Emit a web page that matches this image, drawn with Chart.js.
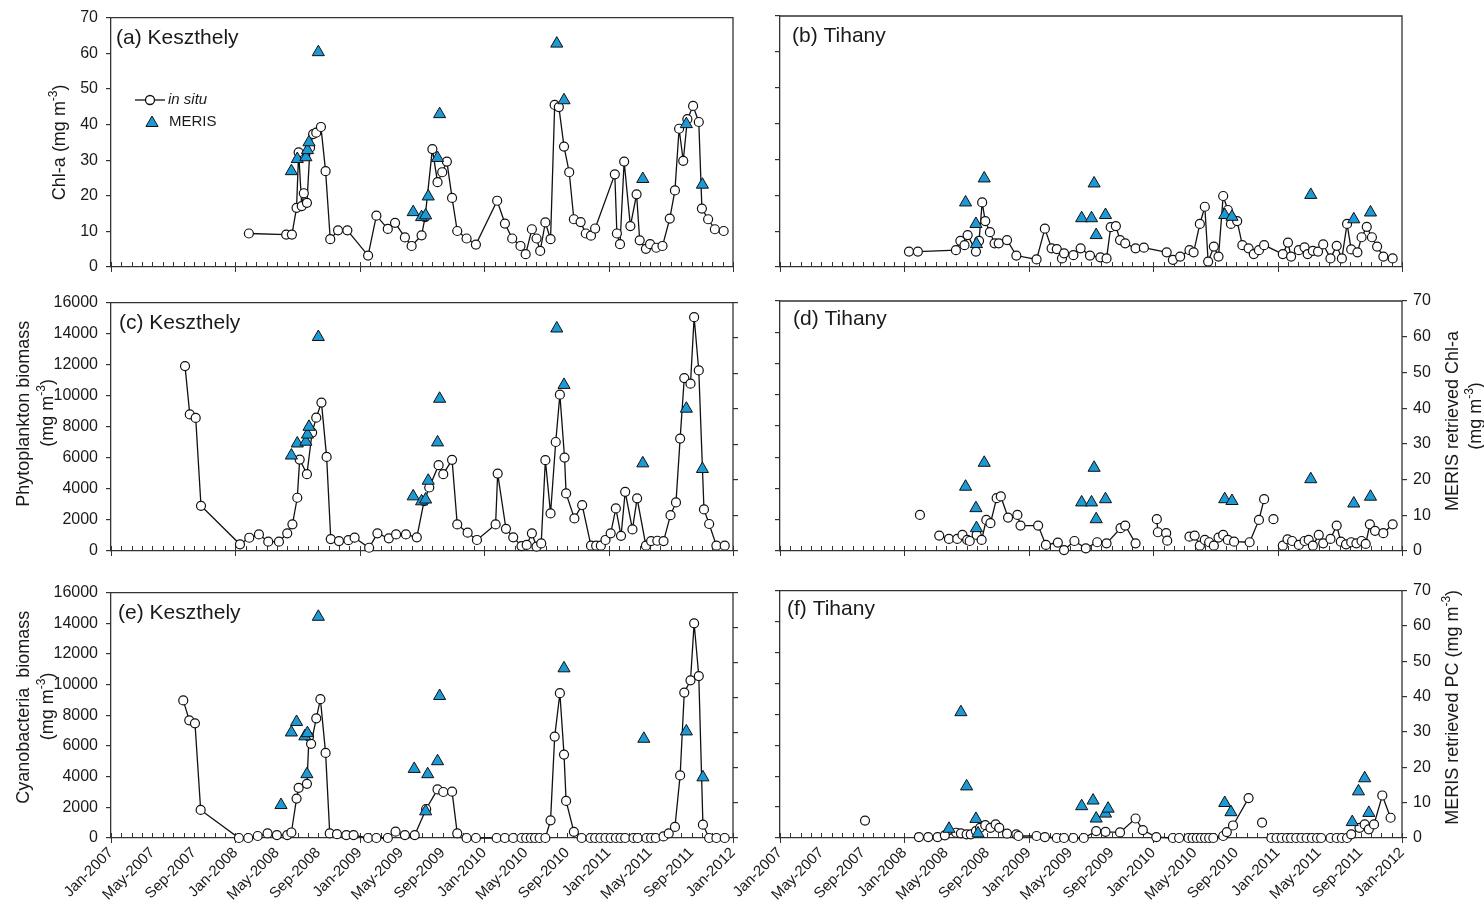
<!DOCTYPE html>
<html>
<head>
<meta charset="utf-8">
<script src="https://cdn.jsdelivr.net/npm/chart.js@4.4.0/dist/chart.umd.min.js"></script>
<style>
  html, body { margin: 0; padding: 0; background: #fff; }
  #wrap { position: relative; width: 1484px; height: 917px; overflow: hidden; }
  canvas { position: absolute; }
</style>
</head>
<body>
<div id="wrap">
  <canvas id="pa" style="left:0;top:0" width="760" height="285"></canvas>
  <canvas id="pb" style="left:700px;top:0" width="784" height="285"></canvas>
  <canvas id="pc" style="left:0;top:285px" width="760" height="290"></canvas>
  <canvas id="pd" style="left:700px;top:285px" width="784" height="290"></canvas>
  <canvas id="pe" style="left:0;top:575px" width="760" height="342"></canvas>
  <canvas id="pf" style="left:700px;top:575px" width="784" height="342"></canvas>
</div>
<script>
// x values are months since Jan-2007
const monthLabels = ['Jan-2007','May-2007','Sep-2007','Jan-2008','May-2008','Sep-2008','Jan-2009','May-2009',
  'Sep-2009','Jan-2010','May-2010','Sep-2010','Jan-2011','May-2011','Sep-2011','Jan-2012'];

// (a) Keszthely in situ Chl-a
const keszChlT = [13.3, 16.9, 17.45, 17.9, 18.1, 18.4, 18.6, 18.9, 19.2, 19.5, 19.8, 20.25, 20.7, 21.15, 21.9, 22.8,
  24.8, 25.6, 26.7, 27.4, 28.35, 29.0, 29.96, 30.3, 31.0, 31.5, 31.95, 32.4, 32.9, 33.4, 34.3, 35.2, 37.25, 38.0,
  38.7, 39.5, 40.0, 40.6, 41.05, 41.4, 41.9, 42.4, 42.8, 43.2, 43.7, 44.2, 44.65, 45.3, 45.8, 46.3, 46.7, 48.6,
  48.8, 49.1, 49.5, 50.1, 50.7, 51.0, 51.6, 52.0, 52.6, 53.2, 53.9, 54.4, 54.8, 55.2, 55.6, 56.15, 56.7, 57.0,
  57.6, 58.25, 59.1];
const keszChl = [9.4, 9.1, 9.1, 16.6, 32.2, 17.1, 20.7, 18.0, 33.5, 37.3, 37.7, 39.3, 26.9, 7.8, 10.3, 10.3,
  3.2, 14.4, 10.7, 12.4, 8.3, 5.9, 8.9, 14.0, 33.1, 23.8, 26.6, 29.6, 19.4, 10.1, 8.0, 6.3, 18.6, 12.2,
  8.0, 5.9, 3.6, 10.6, 8.0, 4.5, 12.5, 7.8, 45.5, 44.9, 33.8, 26.6, 13.4, 12.6, 9.4, 8.8, 10.8, 26.0,
  9.4, 6.4, 29.6, 11.5, 20.4, 7.5, 5.1, 6.4, 5.4, 5.9, 13.6, 21.5, 38.8, 29.8, 41.5, 45.2, 40.7, 16.4,
  13.4, 10.6, 10.1];

// MERIS retrieved Chl-a, Keszthely (panels a and c)
const keszMerisChlT = [17.4, 17.97, 18.8, 18.95, 19.1, 20.0, 29.15, 29.96, 30.35, 30.6, 31.5, 31.7, 43.0, 43.7, 51.3, 55.5, 57.05];
const keszMerisChl = [26.9, 30.3, 30.8, 32.8, 35.0, 60.3, 15.4, 14.0, 14.5, 19.8, 30.6, 42.9, 62.7, 46.8, 24.7, 40.1, 23.1];

// (b) Tihany in situ Chl-a
const tihChlT = [12.44, 13.3, 16.97, 17.4, 17.8, 18.1, 18.9, 19.2, 19.5, 19.8, 20.25, 20.7, 21.1, 21.9, 22.8, 24.75,
  25.55, 26.2, 26.7, 27.2, 27.4, 28.3, 29.0, 29.9, 30.9, 31.5, 31.9, 32.4, 32.8, 33.3, 34.3, 35.1, 37.3, 37.9,
  38.6, 39.5, 39.9, 40.5, 40.98, 41.3, 41.85, 42.3, 42.75, 43.2, 43.5, 44.1, 44.6, 45.2, 45.7, 46.2, 46.7, 48.5,
  49.0, 49.3, 50.05, 50.6, 50.9, 51.4, 51.9, 52.4, 53.1, 53.7, 54.2, 54.7, 55.1, 55.7, 56.1, 56.6, 57.1, 57.6,
  58.2, 59.1];
const tihChl = [4.3, 4.3, 4.7, 7.3, 6.1, 8.9, 4.3, 7.3, 18.0, 12.8, 9.7, 6.6, 6.6, 7.5, 3.2, 2.1,
  10.7, 5.2, 5.0, 2.4, 3.8, 3.3, 5.2, 3.2, 2.7, 2.4, 11.1, 11.4, 7.5, 6.6, 5.2, 5.4, 4.1, 2.0,
  2.9, 4.7, 4.1, 12.0, 16.8, 1.5, 5.7, 2.9, 19.8, 15.9, 12.0, 12.8, 6.1, 5.2, 3.6, 4.7, 6.1, 3.6,
  6.8, 2.9, 4.7, 5.5, 3.6, 4.5, 4.3, 6.3, 2.4, 5.9, 2.4, 12.0, 4.9, 4.1, 8.3, 11.2, 8.3, 5.7,
  2.9, 2.4];

// MERIS retrieved Chl-a, Tihany (panels b and d)
const tihMerisChlT = [17.9, 18.9, 18.95, 19.7, 29.1, 30.05, 30.3, 30.5, 31.4, 42.9, 43.6, 51.2, 55.35, 56.96];
const tihMerisChl = [18.0, 12.0, 6.4, 24.7, 13.6, 13.6, 23.3, 8.9, 14.5, 14.5, 14.0, 20.1, 13.3, 15.2];

// (c) Keszthely phytoplankton biomass
const keszPhytoT = [7.14, 7.6, 8.17, 8.68, 12.44, 13.34, 14.27, 15.17, 16.2, 17.0, 17.5, 17.97, 18.2, 18.9, 19.4,
  19.8, 20.3, 20.8, 21.2, 21.99, 22.9, 23.5, 24.9, 25.7, 26.8, 27.5, 28.45, 29.5, 30.2, 30.7, 31.6, 32.05, 32.9,
  33.4, 34.4, 35.3, 37.1, 37.3, 38.1, 38.8, 39.6, 40.1, 40.6, 41.05, 41.5, 41.9, 42.4, 42.9, 43.3, 43.75, 43.9,
  44.7, 45.45, 46.3, 46.8, 47.25, 47.7, 48.2, 48.7, 49.2, 49.6, 50.3, 50.75, 51.6, 52.1, 52.7, 53.3, 53.97,
  54.5, 54.9, 55.3, 55.9, 56.25, 56.7, 57.2, 57.7, 58.4, 59.2];
const keszPhyto = [11910, 8800, 8570, 2910, 430, 855, 1070, 600, 600, 1140, 1715, 3430, 5890, 4950, 7630,
  8590, 9560, 6060, 770, 640, 700, 860, 210, 1140, 815, 1070, 1070, 880, 3210, 4090, 5530, 4950, 5870,
  1710, 1180, 710, 1710, 4990, 1430, 880, 320, 390, 1140, 280, 490, 5850, 2420, 7020, 10070, 6020, 3710,
  2100, 2960, 340, 340, 340, 710, 1140, 2740, 980, 3810, 1390, 3390, 340, 640, 660, 640, 2310,
  3130, 7240, 11140, 10780, 15060, 11630, 2680, 1740, 340, 340];

// (d) Tihany phytoplankton biomass (null = gap in the series)
const tihPhytoT = [13.5, 14.5, 15.36, 16.3, 17.1, 17.6, 18.06, 18.3, 18.97, 19.45, 19.9, 20.3, 20.9, 21.3, 22.0,
  22.9, 23.2, 24.9, 25.65, 26.8, 27.4, 28.4, 29.5, 30.6, 31.5, 32.85, 33.3, 34.3, 35.3, 36.35, 36.45, 37.25,
  37.35, 38.4, 39.5, 40.0, 40.5, 40.98, 41.4, 41.85, 42.3, 42.75, 43.2, 43.8, 45.3, 46.2, 46.7, 47.1, 47.6,
  48.0, 48.5, 48.96, 49.4, 50.05, 50.6, 51.0, 51.4, 51.97, 52.4, 53.1, 53.7, 54.1, 54.6, 55.1, 55.6, 56.1,
  56.5, 56.9, 57.4, 58.2, 59.1];
const tihPhyto = [2310, null, 985, 770, 770, 1030, 710, 640, 1030, 710, 1990, 1780, 3380, 3490, 2140,
  2310, 1630, 1630, 390, 540, 60, 640, 170, 560, 490, 1460, 1630, 490, null, 2040, 1200, 1140,
  660, null, 920, 985, 340, 710, 560, 340, 860, 1030, 710, 600, 560, 1990, 3320, null, 2040,
  null, 340, 750, 640, 390, 640, 710, 340, 1030, 490, 770, 1630, 600, 430, 560, 490, 640,
  450, 1710, 1290, 1140, 1710];

// (e) Keszthely cyanobacteria biomass
const keszCyanoT = [6.97, 7.55, 8.1, 8.65, 12.34, 13.24, 14.15, 15.1, 16.0, 17.0, 17.4, 17.9, 18.1, 18.9, 19.1,
  19.3, 19.8, 20.2, 20.7, 21.1, 21.8, 22.7, 23.4, 24.8, 25.6, 26.7, 27.45, 28.35, 29.3, 30.4, 31.5, 32.05,
  32.9, 33.4, 34.3, 35.2, 37.2, 38.0, 38.8, 39.6, 40.05, 40.5, 40.9, 41.35, 41.9, 42.4, 42.8, 43.3, 43.7,
  43.9, 44.65, 45.4, 46.25, 46.7, 47.2, 47.7, 48.2, 48.7, 49.15, 49.6, 50.4, 50.8, 51.65, 52.1, 52.55, 53.3,
  53.8, 54.4, 54.9, 55.3, 55.9, 56.25, 56.7, 57.1, 57.7, 58.4, 59.2];
const keszCyano = [8970, 7670, 7480, 1830, 0, 0, 130, 300, 190, 190, 360, 2570, 3270, 3530, 6610,
  6140, 7800, 9050, 5550, 300, 250, 190, 190, 0, 0, 0, 410, 190, 190, 1890, 3170, 3000,
  3020, 300, 0, 0, 0, 0, 0, 0, 0, 0, 0, 0, 0, 1150, 6610, 9440, 5440,
  2420, 400, 0, 0, 0, 0, 0, 0, 0, 0, 0, 0, 0, 0, 0, 0, 100,
  300, 720, 4080, 9480, 10280, 14000, 10560, 870, 0, 0, 0];

// MERIS retrieved PC, Keszthely (panel e)
const keszMerisPcT = [16.4, 17.4, 17.9, 18.7, 18.9, 18.95, 20.0, 29.25, 30.35, 30.55, 31.5, 31.7, 43.7, 51.4, 55.5, 57.1];
const keszMerisPc = [9.4, 30.1, 33.1, 29.0, 18.2, 29.9, 63.1, 19.7, 7.6, 18.2, 21.9, 40.5, 48.4, 28.3, 30.4, 17.3];

// (f) Tihany cyanobacteria biomass (null = gap in the series)
const tihCyanoT = [8.2, 10.0, 13.4, 14.3, 15.2, 15.9, 17.0, 17.45, 18.0, 18.4, 18.9, 19.3, 19.8, 20.3, 20.8, 21.15,
  21.9, 22.8, 23.0, 24.75, 25.55, 26.7, 27.4, 28.3, 29.3, 30.5, 31.4, 32.8, 34.3, 35.0, 36.3, 37.9, 38.5,
  39.4, 39.8, 40.2, 40.6, 41.0, 41.4, 41.8, 42.75, 43.1, 43.7, 45.2, 46.0, 46.5, 47.0, 47.4, 47.9, 48.4,
  48.9, 49.3, 49.8, 50.3, 50.8, 51.3, 51.8, 52.2, 53.1, 53.7, 54.2, 54.7, 55.1, 55.9, 56.4, 56.8, 57.3,
  58.1, 58.9];
const tihCyano = [1130, null, 60, 60, 60, 170, 340, 300, 240, 240, 450, 660, 830, 660, 880, 660,
  280, 240, 130, 130, 60, 0, 0, 0, 0, 450, 400, 360, 1260, 510, 60, 0, 0,
  0, 0, 0, 0, 0, 0, 0, 130, 380, 810, 2580, null, 1000, null, 0, 0, 0,
  0, 0, 0, 0, 0, 0, 0, 0, 0, 0, 0, 0, 240, 660, 880, 560, 880,
  2750, 1310];

// MERIS retrieved PC, Tihany (panel f)
const tihMerisPcT = [16.3, 17.45, 18.0, 18.9, 19.1, 29.1, 30.2, 30.5, 31.4, 31.65, 42.9, 43.5, 55.2, 55.8, 56.4, 56.8];
const tihMerisPc = [2.6, 35.6, 14.6, 5.4, 1.3, 9.0, 10.6, 5.5, 6.9, 8.3, 9.9, 7.3, 4.5, 13.2, 16.9, 7.1];

const FONT = '"Liberation Sans", Arial, Helvetica, sans-serif';
const TXT = '#1a1a1a';
const AXIS = '#333';
const BLUE = '#1b9ad6';
Chart.defaults.font.family = FONT;
Chart.defaults.color = TXT;

const pts = (t, v) => t.map((m, i) => ({ x: m, y: v[i] }));
const UNIT = [['(mg m', 0], ['-3', 1], [')', 0]];

// text and decoration per panel, keyed by canvas id
const deco = {
  pa: { label: '(a) Keszthely', lx: 5, ly: 26, legend: true,
        titles: [{ parts: [['Chl-a (mg m', 0], ['-3', 1], [')', 0]], x: 60, dy: 0 }] },
  pb: { label: '(b) Tihany', lx: 12, ly: 26, titles: [] },
  pc: { label: '(c) Keszthely', lx: 8, ly: 26,
        titles: [{ parts: [['Phytoplankton biomass', 0]], x: 24, dy: -13 }, { parts: UNIT, x: 48, dy: -14 }] },
  pd: { label: '(d) Tihany', lx: 13, ly: 24,
        titles: [{ parts: [['MERIS retrieved Chl-a', 0]], x: 753, dy: -5 }, { parts: UNIT, x: 776, dy: -10 }] },
  pe: { label: '(e) Keszthely', lx: 7, ly: 26,
        titles: [{ parts: [['Cyanobacteria  biomass', 0]], x: 24, dy: -8 }, { parts: UNIT, x: 48, dy: -9 }] },
  pf: { label: '(f) Tihany', lx: 7, ly: 24,
        titles: [{ parts: [['MERIS retrieved PC (mg m', 0], ['-3', 1], [')', 0]], x: 753, dy: -7 }] }
};

function drawVertical(ctx, parts, x, y) {
  ctx.save();
  ctx.translate(x, y);
  ctx.rotate(-Math.PI / 2);
  ctx.textBaseline = 'middle';
  ctx.fillStyle = TXT;
  const fontOf = sup => (sup ? '12px ' : '18px ') + FONT;
  let w = 0;
  parts.forEach(([s, sup]) => { ctx.font = fontOf(sup); w += ctx.measureText(s).width; });
  let cx = -w / 2;
  parts.forEach(([s, sup]) => {
    ctx.font = fontOf(sup);
    ctx.fillText(s, cx, sup ? -6 : 0);
    cx += ctx.measureText(s).width;
  });
  ctx.restore();
}

function triangle(ctx, x, y, r) {
  ctx.beginPath();
  ctx.moveTo(x, y - r);
  ctx.lineTo(x + r * 0.866, y + r * 0.5);
  ctx.lineTo(x - r * 0.866, y + r * 0.5);
  ctx.closePath();
  ctx.fillStyle = BLUE;
  ctx.fill();
  ctx.strokeStyle = '#111';
  ctx.lineWidth = 1;
  ctx.stroke();
}

const panelPlugin = {
  id: 'panelDeco',
  beforeDatasetsDraw(chart) {
    const { ctx, chartArea: a } = chart;
    const xs = chart.scales.x;
    ctx.save();
    ctx.strokeStyle = AXIS;
    ctx.lineWidth = 1.3;
    ctx.beginPath();
    ctx.moveTo(a.left, a.top);
    ctx.lineTo(a.right, a.top);
    ctx.lineTo(a.right, a.bottom);
    ctx.stroke();
    ctx.lineWidth = 1;
    for (let m = 0; m <= 60; m++) {
      const px = Math.round(xs.getPixelForValue(m)) + 0.5;
      ctx.beginPath();
      ctx.moveTo(px, a.bottom - 5);
      ctx.lineTo(px, m % 12 === 0 ? a.bottom + 5 : a.bottom);
      ctx.stroke();
    }
    ctx.restore();
  },
  afterDraw(chart) {
    const d = deco[chart.canvas.id];
    const { ctx, chartArea: a } = chart;
    ctx.save();
    ctx.fillStyle = TXT;
    ctx.font = '21px ' + FONT;
    ctx.textBaseline = 'alphabetic';
    ctx.fillText(d.label, a.left + d.lx, a.top + d.ly);
    const cy = (a.top + a.bottom) / 2;
    d.titles.forEach(t => drawVertical(ctx, t.parts, t.x, cy + t.dy));
    if (d.legend) {
      ctx.strokeStyle = '#111';
      ctx.lineWidth = 1.3;
      ctx.beginPath();
      ctx.moveTo(135, 100); ctx.lineTo(165, 100);
      ctx.stroke();
      ctx.beginPath();
      ctx.arc(150, 100, 4.5, 0, Math.PI * 2);
      ctx.fillStyle = '#fff';
      ctx.fill();
      ctx.stroke();
      triangle(ctx, 152, 123, 7);
      ctx.fillStyle = TXT;
      ctx.textBaseline = 'middle';
      ctx.font = 'italic 15px ' + FONT;
      ctx.fillText('in situ', 168, 100);
      ctx.font = '15px ' + FONT;
      ctx.fillText('MERIS', 169, 122);
    }
    ctx.restore();
  }
};

function makePanel(id, p) {
  return new Chart(document.getElementById(id), {
    type: 'line',
    data: {
      datasets: [
        { label: 'MERIS', data: pts(p.meris[0], p.meris[1]), yAxisID: 'y2', showLine: false,
          pointStyle: 'triangle', pointRadius: 7, pointBackgroundColor: BLUE, pointBorderColor: '#111',
          pointBorderWidth: 1, order: 0, clip: false },
        { label: 'in situ', data: pts(p.insitu[0], p.insitu[1]), yAxisID: 'y', borderColor: '#111',
          borderWidth: 1.3, pointRadius: 4.5, pointBackgroundColor: '#fff', pointBorderColor: '#111',
          pointBorderWidth: 1.2, tension: 0, spanGaps: false, order: 1, clip: false }
      ]
    },
    options: {
      responsive: false,
      animation: false,
      events: [],
      layout: { autoPadding: false, padding: { top: p.padTop, left: 0, right: 0, bottom: 0 } },
      plugins: { legend: { display: false }, tooltip: { enabled: false } },
      scales: {
        x: {
          type: 'linear', min: 0, max: 60,
          ticks: {
            display: p.xLabels, stepSize: 1, autoSkip: false, minRotation: 45, maxRotation: 45,
            padding: 6, color: TXT, font: { size: 15 },
            callback: v => (Math.round(v) % 4 === 0 ? monthLabels[Math.round(v) / 4] : '')
          },
          grid: { display: false, drawTicks: false },
          border: { display: true, color: AXIS, width: 1.3 },
          afterFit: s => { s.height = p.xHeight; }
        },
        y: {
          position: 'left', min: 0, max: p.yMax,
          ticks: { display: p.yLabels, stepSize: p.yStep, padding: 8, color: TXT, font: { size: 16 },
                   callback: v => String(v) },
          grid: { drawOnChartArea: false, drawTicks: true, tickLength: 5, color: AXIS, lineWidth: 1.2 },
          border: { display: true, color: AXIS, width: 1.3 },
          afterFit: s => { s.width = p.lw; }
        },
        y2: {
          position: 'right', min: 0, max: 70,
          ticks: { display: p.y2Labels, stepSize: 10, padding: 6, color: TXT, font: { size: 16 },
                   callback: v => String(v) },
          grid: { display: p.y2Ticks, drawOnChartArea: false, drawTicks: true, tickLength: 5,
                  color: AXIS, lineWidth: 1.2 },
          border: { display: false },
          afterFit: s => { s.width = p.rw; }
        }
      }
    },
    plugins: [panelPlugin]
  });
}

document.addEventListener('DOMContentLoaded', () => {
  makePanel('pa', { insitu: [keszChlT, keszChl], meris: [keszMerisChlT, keszMerisChl], padTop: 16, xHeight: 18,
    xLabels: false, yMax: 70, yStep: 10, yLabels: true, y2Labels: false, y2Ticks: false, lw: 111, rw: 27 });
  makePanel('pb', { insitu: [tihChlT, tihChl], meris: [tihMerisChlT, tihMerisChl], padTop: 16, xHeight: 18,
    xLabels: false, yMax: 70, yStep: 10, yLabels: false, y2Labels: false, y2Ticks: false, lw: 80, rw: 82 });
  makePanel('pc', { insitu: [keszPhytoT, keszPhyto], meris: [keszMerisChlT, keszMerisChl], padTop: 16, xHeight: 24,
    xLabels: false, yMax: 16000, yStep: 2000, yLabels: true, y2Labels: false, y2Ticks: true, lw: 111, rw: 27 });
  makePanel('pd', { insitu: [tihPhytoT, tihPhyto], meris: [tihMerisChlT, tihMerisChl], padTop: 16, xHeight: 24,
    xLabels: false, yMax: 16000, yStep: 2000, yLabels: false, y2Labels: true, y2Ticks: true, lw: 80, rw: 82 });
  makePanel('pe', { insitu: [keszCyanoT, keszCyano], meris: [keszMerisPcT, keszMerisPc], padTop: 12, xHeight: 79,
    xLabels: true, yMax: 16000, yStep: 2000, yLabels: true, y2Labels: false, y2Ticks: true, lw: 111, rw: 27 });
  makePanel('pf', { insitu: [tihCyanoT, tihCyano], meris: [tihMerisPcT, tihMerisPc], padTop: 12, xHeight: 79,
    xLabels: true, yMax: 16000, yStep: 2000, yLabels: false, y2Labels: true, y2Ticks: true, lw: 80, rw: 82 });
});
</script>
</body>
</html>
